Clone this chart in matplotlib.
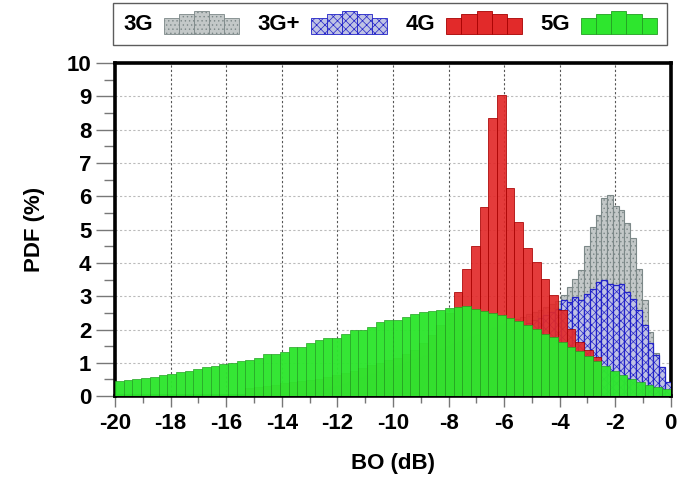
import numpy as np
import matplotlib
matplotlib.use("Agg")
import matplotlib.pyplot as plt
from matplotlib.patches import Rectangle, Patch
from matplotlib.legend_handler import HandlerBase

plt.rcParams['font.family'] = ['Liberation Sans', 'DejaVu Sans']
plt.rcParams['font.weight'] = 'bold'
plt.rcParams['hatch.linewidth'] = 0.5
plt.rcParams['axes.unicode_minus'] = False

# bin layout (dB)
wide_start = -20.0      # 4G / 5G histograms
wide_step = 0.3125
narrow_step = 20 / 96   # 3G / 3G+ histograms, ending at 0 dB

# 5G, 64 bins from -20 dB
pdf_5g = [0.45, 0.47, 0.50, 0.55, 0.57, 0.62, 0.67, 0.72, 0.74, 0.80,
          0.88, 0.90, 0.96, 0.98, 1.05, 1.08, 1.13, 1.26, 1.27, 1.33,
          1.48, 1.46, 1.58, 1.68, 1.73, 1.75, 1.88, 1.98, 2.00, 2.08,
          2.23, 2.28, 2.30, 2.38, 2.48, 2.53, 2.55, 2.60, 2.66, 2.68,
          2.70, 2.63, 2.56, 2.50, 2.43, 2.35, 2.26, 2.15, 2.02, 1.88,
          1.78, 1.62, 1.48, 1.35, 1.20, 1.05, 0.90, 0.76, 0.64, 0.52,
          0.42, 0.33, 0.26, 0.20]

# 4G, bins 15..55 on the same grid
first_4g = 15
pdf_4g = [0.25, 0.27, 0.30, 0.34, 0.38, 0.42, 0.45, 0.48, 0.52, 0.56,
          0.62, 0.68, 0.75, 0.84, 0.92, 1.00, 1.08, 1.15, 1.25, 1.38,
          1.60, 1.85, 2.15, 2.50, 3.13, 3.81, 4.51, 5.68, 8.34, 9.04,
          6.24, 5.23, 4.45, 4.03, 3.51, 3.05, 2.58, 2.03, 1.63, 1.38,
          1.18]

# 3G, 64 narrow bins ending at 0 dB
pdf_3g = [0.05, 0.08, 0.12, 0.16, 0.21, 0.26, 0.31, 0.36, 0.42, 0.48,
          0.54, 0.60, 0.66, 0.72, 0.78, 0.84, 0.90, 0.96, 1.02, 1.08,
          1.14, 1.20, 1.27, 1.34, 1.41, 1.48, 1.55, 1.62, 1.69, 1.76,
          1.83, 1.90, 1.97, 2.04, 2.11, 2.18, 2.25, 2.32, 2.39, 2.46,
          2.53, 2.60, 2.68, 2.76, 2.85, 3.03, 3.28, 3.53, 3.78, 4.50,
          5.08, 5.44, 5.94, 6.04, 5.71, 5.59, 5.20, 4.74, 3.83, 2.88,
          1.93, 1.28, 0.68, 0.40]

# 3G+, 64 narrow bins ending at 0 dB
pdf_3gp = [0.03, 0.06, 0.10, 0.14, 0.19, 0.24, 0.29, 0.34, 0.39, 0.44,
           0.49, 0.54, 0.59, 0.64, 0.69, 0.72, 0.75, 0.78, 0.83, 0.88,
           0.93, 0.96, 0.99, 1.03, 1.09, 1.15, 1.22, 1.29, 1.35, 1.42,
           1.49, 1.56, 1.64, 1.72, 1.80, 1.88, 1.96, 2.04, 2.12, 2.20,
           2.28, 2.36, 2.45, 2.54, 2.63, 2.88, 2.83, 2.98, 2.90, 3.08,
           3.23, 3.43, 3.50, 3.36, 3.33, 3.36, 3.13, 2.93, 2.58, 2.13,
           1.58, 1.23, 0.88, 0.42]

labels = ['3G', '3G+', '4G', '5G']
styles = {
    '3G':  dict(facecolor='#c3c8c8', edgecolor='#7c8888', hatch='....', linewidth=0.8),
    '3G+': dict(facecolor='#bfc2e4', edgecolor='#2222c8', hatch='xxxx', linewidth=0.9),
    '4G':  dict(facecolor='#e22a2a', edgecolor='#a80000', linewidth=0.6, alpha=0.92),
    '5G':  dict(facecolor='#2ee62e', edgecolor='#22a022', linewidth=0.5, alpha=0.97),
}

left_5g = wide_start + wide_step * np.arange(len(pdf_5g))
left_4g = wide_start + wide_step * (first_4g + np.arange(len(pdf_4g)))
left_3g = -narrow_step * (len(pdf_3g) - np.arange(len(pdf_3g)))
left_3gp = -narrow_step * (len(pdf_3gp) - np.arange(len(pdf_3gp)))

fig = plt.figure(figsize=(6.81, 4.86), dpi=100)
ax = fig.add_axes([0.169, 0.185, 0.816, 0.685])

ax.bar(left_3g, pdf_3g, width=narrow_step, align='edge', zorder=2, **styles['3G'])
ax.bar(left_3gp, pdf_3gp, width=narrow_step, align='edge', zorder=3, **styles['3G+'])
ax.bar(left_4g, pdf_4g, width=wide_step, align='edge', zorder=4, **styles['4G'])
ax.bar(left_5g, pdf_5g, width=wide_step, align='edge', zorder=5, **styles['5G'])

ax.set_xlim(-20, 0)
ax.set_ylim(0, 10)
ax.set_xticks(np.arange(-20, 1, 2))
ax.set_xticks(np.arange(-20, 1, 1), minor=True)
ax.set_yticks(np.arange(0, 11, 1))
ax.set_yticks(np.arange(0, 10.5, 0.5), minor=True)
ax.tick_params(which='both', direction='out', color='#777777', labelsize=16, width=1)
ax.tick_params(which='major', length=8, pad=4)
ax.tick_params(which='minor', length=5)
ax.tick_params(axis='y', which='major', length=14, pad=3)
ax.tick_params(axis='y', which='minor', length=8)

ax.grid(axis='x', which='major', linestyle=(0, (2, 2)), color='#555555', linewidth=0.8, zorder=0)
ax.grid(axis='y', which='major', linestyle=(0, (2, 2)), color='#bbbbbb', linewidth=0.8, zorder=0)
ax.set_axisbelow(True)
for sp in ax.spines.values():
    sp.set_linewidth(2.6)
    sp.set_color('black')

ax.set_xlabel('BO (dB)', fontsize=16, fontweight='bold', labelpad=14)
ax.set_ylabel('PDF (%)', fontsize=16, fontweight='bold', labelpad=16)


class HistHandler(HandlerBase):
    # mini histogram as legend key
    def create_artists(self, legend, orig_handle, xdescent, ydescent,
                       width, height, fontsize, trans):
        shape = [0.72, 0.86, 1.0, 0.86, 0.70]
        w = width / len(shape)
        arts = []
        for i, h in enumerate(shape):
            r = Rectangle((-xdescent + i * w, -ydescent - 0.15 * height), w, 1.25 * height * h,
                          facecolor=orig_handle.get_facecolor(),
                          edgecolor=orig_handle.get_edgecolor(),
                          hatch=orig_handle.get_hatch(),
                          linewidth=0.6, transform=trans)
            arts.append(r)
        return arts


handles = []
for lab in labels:
    st = dict(styles[lab])
    st.pop('alpha', None)
    st.pop('linewidth', None)
    handles.append(Patch(**st))

leg = fig.legend(handles, labels, handler_map={Patch: HistHandler()},
                 loc='upper left', bbox_to_anchor=(0.166, 0.994, 0.813, 0.0),
                 mode='expand', ncol=4, frameon=True, fancybox=False,
                 markerfirst=False,
                 edgecolor='#333333', fontsize=16, handlelength=3.4,
                 handleheight=0.9, handletextpad=0.5, columnspacing=0.8,
                 borderpad=0.45, borderaxespad=0)
leg.get_frame().set_linewidth(1.0)
for t in leg.get_texts():
    t.set_fontweight('bold')

fig.savefig('out.png', dpi=100)
